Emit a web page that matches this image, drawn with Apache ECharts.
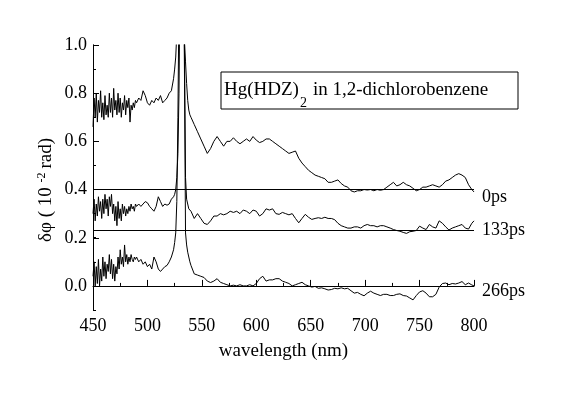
<!DOCTYPE html>
<html>
<head>
<meta charset="utf-8">
<script src="https://cdn.jsdelivr.net/npm/echarts@6/dist/echarts.min.js"></script>
<style>
  html, body { margin: 0; padding: 0; background: #fff; }
  #chart { width: 561px; height: 398px; }
</style>
</head>
<body>
<div id="chart"></div>
<script>
// wavelength (nm), shared by the three traces
const wavelengths = [
  450,451,452,453,454,455,456,457,458,459,460,461,462,463,464,465,466,467,468,469,
  470,471,472,473,474,475,476,477,478,479,480,481,482,483,484,485,486,487,488,489,490,
  492,494,496,498,500,502,504,506,508,510,512,514,516,518,520,522,524,
  525,526,527,528,529,530,531,532,533,534,535,536,537,538,539,540,
  543,546,549,552,555,558,561,564,567,570,573,576,579,582,585,588,591,594,597,600,
  603,606,609,612,615,618,621,624,627,630,633,636,639,642,645,648,651,654,657,660,
  663,666,669,672,675,678,681,684,687,690,693,696,699,702,705,708,711,714,717,720,
  723,726,729,732,735,738,741,744,747,750,753,756,759,762,765,768,771,774,777,780,
  783,786,789,792,795,798,800
];

// δφ traces (10^-2 rad), each drawn with its own offset
const signal0ps = [
  0.66,0.78,0.70,0.80,0.68,0.77,0.72,0.81,0.70,0.76,0.69,0.79,0.71,0.75,0.70,0.80,0.72,0.78,0.70,0.82,
  0.73,0.77,0.71,0.80,0.72,0.78,0.70,0.76,0.73,0.79,0.71,0.77,0.74,0.78,0.68,0.75,0.73,0.76,0.74,0.77,0.76,
  0.78,0.77,0.81,0.79,0.76,0.75,0.77,0.76,0.78,0.77,0.79,0.76,0.77,0.78,0.80,0.81,0.86,
  0.90,0.95,1.05,1.4,1.6,1.7,1.7,1.6,1.3,1.02,0.93,0.84,0.77,0.73,0.71,0.70,
  0.67,0.64,0.61,0.58,0.55,0.57,0.60,0.62,0.60,0.58,0.60,0.60,0.615,0.60,0.59,0.60,0.61,0.60,0.62,0.605,
  0.595,0.60,0.61,0.61,0.60,0.59,0.58,0.57,0.56,0.55,0.555,0.56,0.53,0.51,0.495,0.48,0.47,0.46,0.455,0.45,
  0.445,0.43,0.43,0.435,0.44,0.425,0.415,0.41,0.395,0.39,0.395,0.395,0.40,0.398,0.40,0.395,0.40,0.397,0.40,0.41,
  0.42,0.43,0.415,0.42,0.43,0.42,0.415,0.405,0.395,0.40,0.41,0.41,0.415,0.42,0.415,0.41,0.42,0.435,0.44,0.45,
  0.46,0.466,0.46,0.45,0.42,0.40,0.39
];
const signal133ps = [
  0.30,0.36,0.27,0.34,0.29,0.37,0.31,0.35,0.28,0.36,0.30,0.38,0.32,0.36,0.29,0.37,0.33,0.38,0.30,0.34,
  0.27,0.33,0.25,0.35,0.28,0.32,0.27,0.34,0.30,0.33,0.29,0.32,0.30,0.33,0.31,0.34,0.32,0.33,0.31,0.34,0.33,
  0.34,0.33,0.34,0.35,0.345,0.33,0.32,0.31,0.33,0.37,0.35,0.33,0.34,0.335,0.34,0.36,0.37,
  0.38,0.40,0.45,0.55,0.80,1.3,1.6,1.6,1.4,1.0,0.45,0.36,0.34,0.32,0.315,0.31,
  0.28,0.30,0.28,0.26,0.255,0.27,0.29,0.29,0.30,0.295,0.30,0.31,0.305,0.31,0.30,0.315,0.31,0.30,0.315,0.31,
  0.29,0.30,0.32,0.315,0.32,0.30,0.297,0.305,0.30,0.295,0.30,0.28,0.262,0.28,0.297,0.285,0.276,0.28,0.283,0.28,
  0.285,0.28,0.28,0.275,0.26,0.25,0.245,0.24,0.24,0.245,0.245,0.24,0.25,0.255,0.25,0.25,0.245,0.25,0.25,0.245,
  0.24,0.234,0.23,0.227,0.222,0.218,0.225,0.227,0.23,0.248,0.24,0.234,0.255,0.245,0.24,0.27,0.26,0.245,0.232,0.24,
  0.245,0.25,0.255,0.24,0.236,0.26,0.27
];
const signal266ps = [
  0.04,0.10,0.00,0.08,0.01,0.11,0.00,0.07,0.02,0.12,0.04,0.10,0.03,0.09,0.06,0.13,0.05,0.11,0.03,0.09,
  0.02,0.08,0.05,0.12,0.07,0.15,0.09,0.12,0.08,0.17,0.10,0.13,0.09,0.12,0.10,0.13,0.11,0.10,0.12,0.11,0.12,
  0.10,0.11,0.09,0.10,0.08,0.09,0.07,0.12,0.10,0.07,0.06,0.07,0.08,0.085,0.10,0.12,0.15,
  0.18,0.22,0.35,0.7,1.2,1.6,1.7,1.7,1.5,0.9,0.22,0.17,0.14,0.12,0.10,0.085,
  0.05,0.045,0.04,0.035,0.02,0.014,0.02,0.03,0.015,0.01,0.005,0.0,0.003,0.0,0.005,0.0,0.0,0.005,0.0,0.01,
  0.03,0.04,0.02,0.025,0.025,0.03,0.03,0.02,0.015,0.01,0.0,0.005,0.01,0.015,0.005,0.0,-0.005,-0.002,-0.01,-0.008,
  -0.012,-0.017,-0.015,-0.01,-0.012,-0.008,-0.012,-0.01,-0.02,-0.03,-0.027,-0.035,-0.041,-0.03,-0.022,-0.03,-0.035,-0.04,-0.035,-0.035,
  -0.04,-0.04,-0.035,-0.033,-0.04,-0.042,-0.05,-0.058,-0.04,-0.025,-0.02,-0.03,-0.045,-0.045,-0.035,-0.005,0.01,0.012,0.005,0.01,
  0.008,0.012,0.018,0.005,0.012,0.004,0.0
];

const traceNames = ['0ps', '133ps', '266ps'];
const baselines = [0.395, 0.234, 0.0];
const yTickLabels = ['0.0', '0.2', '0.4', '0.6', '0.8', '1.0'];

const FONT = '"Liberation Serif", "Times New Roman", serif';
const chart = echarts.init(document.getElementById('chart'));

const traces = [signal0ps, signal133ps, signal266ps];

const option = {
  animation: false,
  backgroundColor: '#fff',
  grid: [
    { left: 93, right: 87, top: 45, bottom: 88 },
    // second grid only carries the labelled y ticks (0.0 .. 1.0)
    { left: 93, right: 87, top: 45, bottom: 112 }
  ],
  xAxis: [
    {
      gridIndex: 0,
      type: 'value',
      min: 450,
      max: 800,
      interval: 50,
      name: 'wavelength (nm)',
      nameLocation: 'middle',
      nameGap: 32,
      nameTextStyle: { fontFamily: FONT, fontSize: 19, color: '#000' },
      axisLine: { lineStyle: { color: '#000', width: 1 } },
      axisTick: { inside: true, length: 6, lineStyle: { color: '#000' } },
      minorTick: { show: true, splitNumber: 2, length: 3, lineStyle: { color: '#000' } },
      axisLabel: { fontFamily: FONT, fontSize: 18, color: '#000', margin: 7 },
      splitLine: { show: false }
    },
    { gridIndex: 1, type: 'value', min: 450, max: 800, show: false }
  ],
  yAxis: [
    {
      gridIndex: 0,
      type: 'value',
      min: -0.1,
      max: 1.0,
      interval: 0.1,
      axisLine: { show: true, lineStyle: { color: '#000', width: 1 } },
      axisTick: { show: true, inside: true, length: 3, lineStyle: { color: '#000' } },
      axisLabel: { show: false },
      splitLine: { show: false }
    },
    {
      gridIndex: 1,
      type: 'value',
      min: 0,
      max: 1.0,
      interval: 0.2,
      axisLine: { show: true, lineStyle: { color: '#000', width: 1 } },
      axisTick: { show: true, inside: true, length: 6, lineStyle: { color: '#000' } },
      axisLabel: {
        fontFamily: FONT, fontSize: 18, color: '#000', margin: 6,
        formatter: v => yTickLabels[Math.round(v / 0.2)]
      },
      splitLine: { show: false }
    }
  ],
  series: traces.map((vals, i) => ({
    type: 'line',
    xAxisIndex: 0,
    yAxisIndex: 0,
    name: traceNames[i],
    data: wavelengths.map((w, j) => [w, vals[j]]),
    showSymbol: false,
    clip: true,
    lineStyle: { color: '#000', width: 1 },
    markLine: {
      silent: true,
      symbol: 'none',
      animation: false,
      label: { show: false },
      lineStyle: { color: '#000', width: 1, type: 'solid' },
      data: [{ yAxis: baselines[i] }]
    }
  })),
  graphic: [
    {
      type: 'rect',
      shape: { x: 221, y: 72, width: 297, height: 37 },
      style: { fill: '#fff', stroke: '#000', lineWidth: 1 }
    },
    { type: 'text', x: 224, y: 90, style: { text: 'Hg(HDZ)', font: '19px ' + FONT, fill: '#000', verticalAlign: 'middle' } },
    { type: 'text', x: 300, y: 103, style: { text: '2', font: '14px ' + FONT, fill: '#000', verticalAlign: 'middle' } },
    { type: 'text', x: 313, y: 90, style: { text: 'in 1,2-dichlorobenzene', font: '19px ' + FONT, fill: '#000', verticalAlign: 'middle' } },
    { type: 'text', x: 482, y: 197, style: { text: traceNames[0], font: '18px ' + FONT, fill: '#000', verticalAlign: 'middle' } },
    { type: 'text', x: 482, y: 230, style: { text: traceNames[1], font: '18px ' + FONT, fill: '#000', verticalAlign: 'middle' } },
    { type: 'text', x: 482, y: 291, style: { text: traceNames[2], font: '18px ' + FONT, fill: '#000', verticalAlign: 'middle' } },
    {
      type: 'text',
      x: 46,
      y: 190,
      rotation: Math.PI / 2,
      style: {
        text: '{a|δφ ( 10 }{s|-2}{a|rad)}',
        align: 'center',
        verticalAlign: 'middle',
        fill: '#000',
        rich: {
          a: { fontFamily: FONT, fontSize: 19, fill: '#000' },
          s: { fontFamily: FONT, fontSize: 12, fill: '#000', verticalAlign: 'top', padding: [0, 4, 8, 0] }
        }
      }
    }
  ]
};

chart.setOption(option);
window.addEventListener('resize', () => chart.resize());
</script>
</body>
</html>
